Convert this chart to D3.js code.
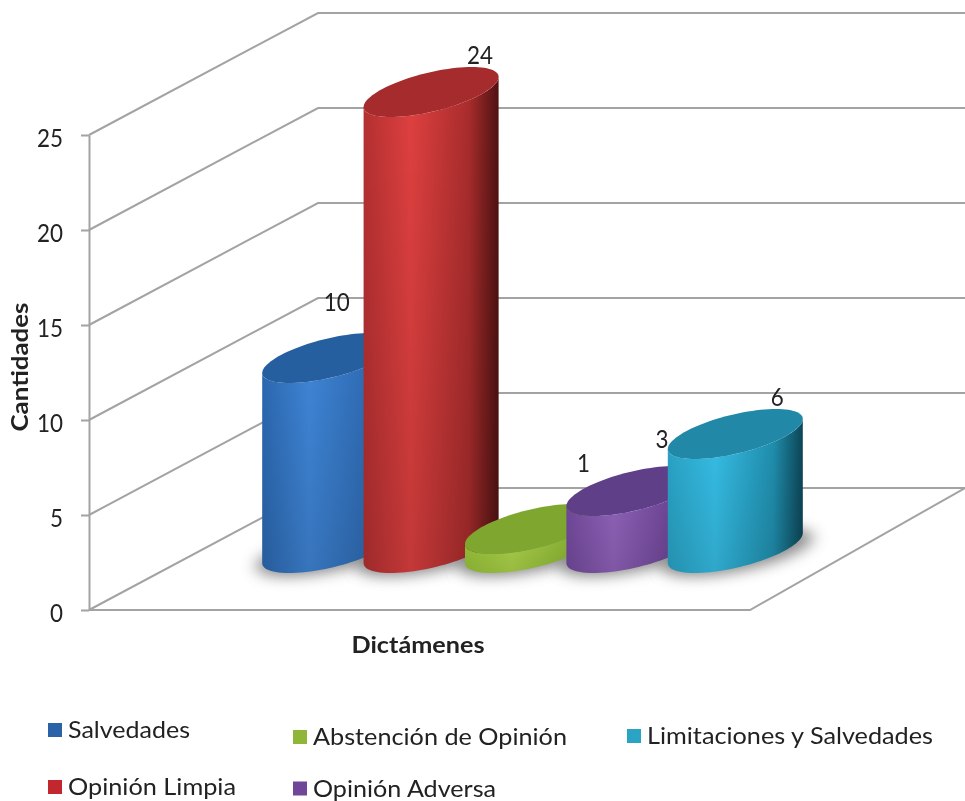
<!DOCTYPE html>
<html>
<head>
<meta charset="utf-8">
<script src="https://cdn.jsdelivr.net/npm/d3@7"></script>
<style>
  body { margin: 0; background: #fff; }
  text { font-family: Lato, "Open Sans", sans-serif; fill: #222; }
  svg { filter: blur(0.4px); }
</style>
</head>
<body>
<script>
// Data
let categories = ["Salvedades", "Opinión Limpia", "Abstención de Opinión", "Opinión Adversa", "Limitaciones y Salvedades"];
let values = [10, 24, 1, 3, 6];
let yTicks = [0, 5, 10, 15, 20, 25];

let topColors = ["#265f9f", "#a52b2c", "#7fa62f", "#5f3f88", "#2188a8"];
let bodyColors = [
	["#2c69b2", "#3f86d8", "#2f6cb5", "#1f4f8c"],
	["#b53031", "#e04040", "#a92c2c", "#4f1212"],
	["#9ac63a", "#aed64a", "#8fb836", "#7a9f2c"],
	["#744a9e", "#9264bd", "#6f4698", "#4f3070"],
	["#2aa5c8", "#36c0e8", "#2090b0", "#0c4657"]
];

let width = 965, height = 801;

let svg = d3.select("body").append("svg")
	.attr("width", width)
	.attr("height", height)
	.style("display", "block");

let defs = svg.append("defs");
defs.append("filter").attr("id", "shadow")
	.attr("x", "-30%").attr("y", "-60%").attr("width", "160%").attr("height", "220%")
	.append("feGaussianBlur").attr("stdDeviation", 7);

// scales
let y = d3.scaleLinear().domain([0, 25]).range([610, 135]);
let x = d3.scaleBand().domain(categories).range([279, 786]);

// depth of the box, oblique projection
let axisX = 89;
let depthX = 229, depthY = 122;
let wallRight = 965;
let floorRight = 750;

// walls and gridlines
let grid = svg.append("g")
	.attr("fill", "none")
	.attr("stroke", "#a3a3a3")
	.attr("stroke-width", 2);

grid.selectAll("path")
	.data(yTicks)
	.enter()
	.append("path")
	.attr("d", d => d3.line()([
		[axisX, y(d)],
		[axisX + depthX, y(d) - depthY],
		[wallRight, y(d) - depthY]
	]));

grid.append("path")
	.attr("d", d3.line()([
		[axisX, y(0)],
		[floorRight, y(0)],
		[wallRight, y(0) - depthY]
	]));

// left axis
let yAxis = d3.axisLeft(y).tickValues(yTicks).tickSize(8).tickPadding(18).tickSizeOuter(0);
let axisG = svg.append("g")
	.attr("transform", "translate(" + axisX + ",0)")
	.call(yAxis);
axisG.selectAll("path, line").attr("stroke", "#a3a3a3").attr("stroke-width", 2);
axisG.selectAll("text")
	.attr("font-size", 25)
	.attr("dy", "0.45em")
	.attr("textLength", d => String(d).length * 13)
	.attr("lengthAdjust", "spacingAndGlyphs")
	.style("font-family", "Lato, sans-serif")
	.attr("fill", "#222");

// cylinders: ellipse on the floor, skewed along the depth direction
let ellW = 108, ellDX = 81, ellDY = 50;
let baseCenterY = 548;
let tEdge = Math.atan2(ellDX, ellW);

function centerX(d) { return x(d) + x.bandwidth() / 2; }
function ellipsePoint(cx, cy, t) {
	return [
		cx + ellW / 2 * Math.cos(t) + ellDX / 2 * Math.sin(t),
		cy - ellDY / 2 * Math.sin(t)
	];
}
let fullCircle = d3.range(0, 96).map(i => i / 96 * 2 * Math.PI);
// front half, going from the left side to the right one under the ellipse
let frontHalf = d3.range(0, 49).map(i => Math.PI + tEdge + i / 48 * Math.PI);

function heightOf(v) { return y(0) - y(v); }

// gradients
categories.forEach((c, i) => {
	let g = defs.append("linearGradient").attr("id", "body" + i);
	[0, 0.35, 0.78, 1].forEach((o, j) => {
		g.append("stop").attr("offset", o).attr("stop-color", bodyColors[i][j]);
	});
});
// the cylinders get a little darker going down
let shade = defs.append("linearGradient").attr("id", "shade")
	.attr("x1", 0).attr("x2", 0).attr("y1", 0).attr("y2", 1);
shade.append("stop").attr("offset", 0).attr("stop-color", "#000").attr("stop-opacity", 0);
shade.append("stop").attr("offset", 1).attr("stop-color", "#000").attr("stop-opacity", 0.13);

// floor shadows
svg.append("g").selectAll("path")
	.data(categories)
	.enter()
	.append("path")
	.attr("filter", "url(#shadow)")
	.attr("fill", "#666")
	.attr("opacity", 0.75)
	.attr("transform", d => "translate(" + (centerX(d) + 2) + "," + (baseCenterY + 4) + ") scale(1.12,0.98) translate(" + (-centerX(d)) + "," + (-baseCenterY) + ")")
	.attr("d", d => d3.line().curve(d3.curveLinearClosed)(fullCircle.map(t => ellipsePoint(centerX(d), baseCenterY, t))));

function bodyPath(d, i) {
	let cx = centerX(d);
	let h = heightOf(values[i]);
	let upper = frontHalf.map(t => ellipsePoint(cx, baseCenterY - h, t));
	let lower = frontHalf.map(t => ellipsePoint(cx, baseCenterY, t)).reverse();
	return d3.line().curve(d3.curveLinearClosed)(upper.concat(lower));
}

// one cylinder per category, left to right so that each one covers the last
let bars = svg.append("g").selectAll("g")
	.data(categories)
	.enter()
	.append("g");

bars.append("path")
	.attr("fill", (d, i) => "url(#body" + i + ")")
	.attr("d", bodyPath);

bars.append("path")
	.attr("fill", "url(#shade)")
	.attr("d", bodyPath);

bars.append("path")
	.attr("fill", (d, i) => topColors[i])
	.attr("d", (d, i) => {
		let cx = centerX(d);
		let h = heightOf(values[i]);
		return d3.line().curve(d3.curveLinearClosed)(fullCircle.map(t => ellipsePoint(cx, baseCenterY - h, t)));
	});

// value labels, offset from the centre of each top
let labelOffsets = [
	[7, -47], [49, -28], [51, -57], [28, -43], [42, -28]
];
svg.append("g").selectAll("text")
	.data(categories)
	.enter()
	.append("text")
	.attr("text-anchor", "middle")
	.attr("font-size", 25)
	.attr("textLength", (d, i) => String(values[i]).length * 13)
	.attr("lengthAdjust", "spacingAndGlyphs")
	.attr("x", (d, i) => centerX(d) + labelOffsets[i][0])
	.attr("y", (d, i) => baseCenterY - heightOf(values[i]) + labelOffsets[i][1])
	.text((d, i) => values[i]);

// axis titles
svg.append("text")
	.attr("x", 418).attr("y", 653)
	.attr("text-anchor", "middle")
	.attr("font-size", 22)
	.attr("font-weight", 700)
	.attr("textLength", 133)
	.attr("lengthAdjust", "spacingAndGlyphs")
	.text("Dictámenes");

svg.append("text")
	.attr("transform", "translate(28,367) rotate(-90)")
	.attr("text-anchor", "middle")
	.attr("font-size", 22)
	.attr("font-weight", 700)
	.attr("textLength", 129)
	.attr("lengthAdjust", "spacingAndGlyphs")
	.text("Cantidades");

// legend, placed by hand like the picture
let legendX = [48, 48, 293, 293, 627];
let legendY = [730, 787, 737, 788.5, 736];
let legendSwatch = ["#2a62a8", "#c1272d", "#8fb539", "#6f4698", "#2ba3c4"];
let legendTextW = [122, 168, 254, 183, 286];

let legend = svg.append("g").selectAll("g")
	.data(categories)
	.enter()
	.append("g")
	.attr("transform", (d, i) => "translate(" + legendX[i] + "," + legendY[i] + ")");

legend.append("rect")
	.attr("x", 0).attr("y", -7)
	.attr("width", 14).attr("height", 14)
	.attr("fill", (d, i) => legendSwatch[i]);

legend.append("text")
	.attr("x", 20).attr("y", 8)
	.attr("font-size", 24)
	.attr("textLength", (d, i) => legendTextW[i])
	.attr("lengthAdjust", "spacingAndGlyphs")
	.text(d => d);
</script>
</body>
</html>
